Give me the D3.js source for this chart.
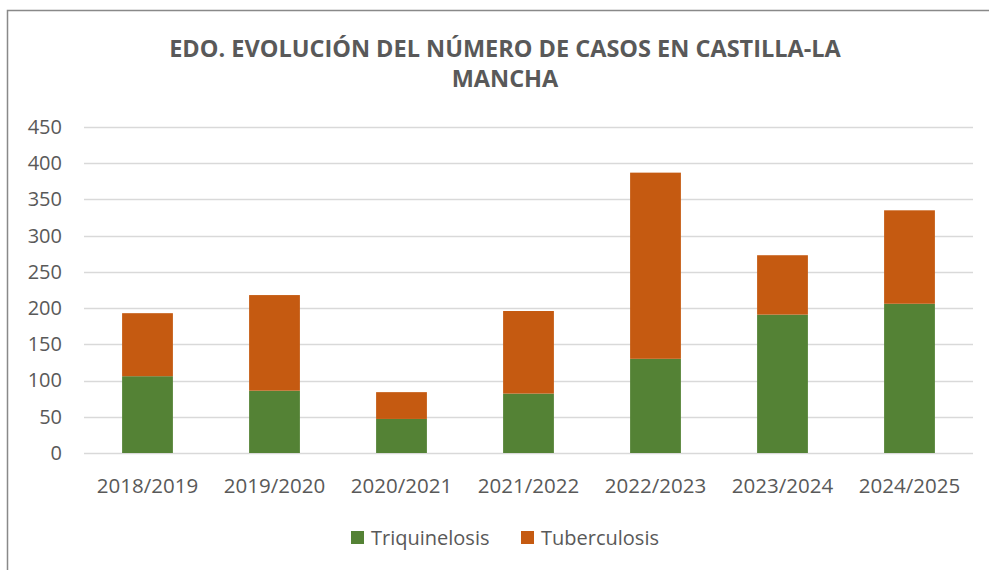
<!DOCTYPE html>
<html>
<head>
<meta charset="utf-8">
<script src="https://cdn.jsdelivr.net/npm/d3@7"></script>
<style>
  body { margin: 0; background: #fff; }
  text { font-family: "Open Sans", sans-serif; fill: #595959; }
</style>
</head>
<body>
<div id="chart"></div>
<script>
// data
const seasons = ["2018/2019", "2019/2020", "2020/2021", "2021/2022", "2022/2023", "2023/2024", "2024/2025"];
const triquinelosis = [106, 86, 47, 82, 130, 191, 206];
const tuberculosis = [87, 132, 37, 114, 257, 82, 129];
const seriesNames = ["Triquinelosis", "Tuberculosis"];
const yTicks = [0, 50, 100, 150, 200, 250, 300, 350, 400, 450];
const titleLines = ["EDO. EVOLUCIÓN DEL NÚMERO DE CASOS EN CASTILLA-LA", "MANCHA"];

const width = 989;
const height = 570;
const margin = {top: 127, right: 16, bottom: 117, left: 84};
const colors = {Triquinelosis: "#548235", Tuberculosis: "#c55a11"};

const svg = d3.select("#chart")
    .append("svg")
    .attr("width", width)
    .attr("height", height);

// chart frame (only left and top edges visible)
svg.append("path")
    .attr("d", `M7.5,${height} V10.5 H${width}`)
    .attr("fill", "none")
    .attr("stroke", "#898989")
    .attr("stroke-width", 1.5);

const table = seasons.map((s, i) => ({season: s, Triquinelosis: triquinelosis[i], Tuberculosis: tuberculosis[i]}));
const stacked = d3.stack().keys(seriesNames)(table);

const x = d3.scaleBand()
    .domain(seasons)
    .range([margin.left, width - margin.right])
    .paddingInner(0.6)
    .paddingOuter(0.3);

const y = d3.scaleLinear()
    .domain([0, 450])
    .range([height - margin.bottom, margin.top]);

// gridlines
svg.append("g")
    .selectAll("line")
    .data(yTicks)
    .join("line")
    .attr("x1", margin.left)
    .attr("x2", width - margin.right)
    .attr("y1", d => Math.round(y(d)) + 0.5)
    .attr("y2", d => Math.round(y(d)) + 0.5)
    .attr("stroke", "#d9d9d9")
    .attr("stroke-width", 1.5);

// y axis labels
const yAxis = d3.axisLeft(y).tickValues(yTicks).tickSize(0).tickPadding(0);
const gy = svg.append("g")
    .attr("transform", `translate(62,0)`)
    .call(yAxis);
gy.select(".domain").remove();
gy.selectAll("text")
    .style("font-family", "'Open Sans', sans-serif")
    .style("font-size", "20px")
    .attr("fill", "#595959");

// bars
svg.append("g")
    .selectAll("g")
    .data(stacked)
    .join("g")
    .attr("fill", d => colors[d.key])
    .selectAll("rect")
    .data(d => d)
    .join("rect")
    .attr("x", d => x(d.data.season))
    .attr("y", d => y(d[1]))
    .attr("width", x.bandwidth())
    .attr("height", d => y(d[0]) - y(d[1]));

// x axis labels
const xAxis = d3.axisBottom(x).tickSize(0).tickPadding(0);
const gx = svg.append("g")
    .attr("transform", `translate(0,${height - margin.bottom + 25})`)
    .call(xAxis);
gx.select(".domain").remove();
gx.selectAll("text")
    .style("font-family", "'Open Sans', sans-serif")
    .style("font-size", "20.5px")
    .attr("fill", "#595959");

// title
svg.append("g")
    .selectAll("text")
    .data(titleLines)
    .join("text")
    .attr("x", 505)
    .attr("y", (d, i) => 57 + i * 30)
    .attr("text-anchor", "middle")
    .style("font-size", "23.5px")
    .style("font-weight", "bold")
    .text(d => d);

// legend
const legendX = [351, 521];
const legend = svg.append("g")
    .selectAll("g")
    .data(seriesNames)
    .join("g")
    .attr("transform", (d, i) => `translate(${legendX[i]},531)`);
legend.append("rect")
    .attr("width", 13)
    .attr("height", 13)
    .attr("fill", d => colors[d]);
legend.append("text")
    .attr("x", 20)
    .attr("y", 14)
    .style("font-size", "20px")
    .text(d => d);
</script>
</body>
</html>
